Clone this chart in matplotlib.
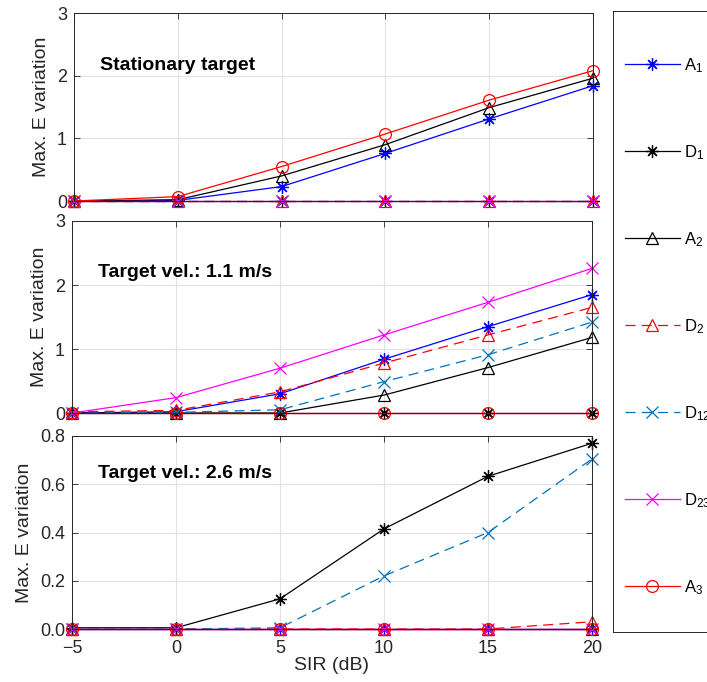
import matplotlib
matplotlib.use('Agg')
import matplotlib.pyplot as plt
import numpy as np

plt.rcParams['font.family'] = ['Liberation Sans', 'DejaVu Sans']
plt.rcParams['mathtext.fontset'] = 'custom'
plt.rcParams['mathtext.rm'] = 'Liberation Sans'
plt.rcParams['mathtext.it'] = 'Liberation Sans'

sir = [-5, 0, 5, 10, 15, 20]
names = ["A$_1$", "D$_1$", "A$_2$", "D$_2$", "D$_{12}$", "D$_{23}$", "A$_3$"]
panel_text = ["Stationary target", "Target vel.: 1.1 m/s", "Target vel.: 2.6 m/s"]

zero = [0, 0, 0, 0, 0, 0]

# stationary target
st_A1 = [0, 0.01, 0.23, 0.76, 1.31, 1.84]
st_D1 = zero
st_A2 = [0, 0.02, 0.40, 0.90, 1.49, 1.96]
st_D2 = zero
st_D12 = zero
st_D23 = zero
st_A3 = [0, 0.07, 0.55, 1.07, 1.61, 2.08]

# 1.1 m/s
v1_A1 = [0, 0.02, 0.30, 0.84, 1.35, 1.85]
v1_D1 = zero
v1_A2 = [0, 0, 0, 0.28, 0.71, 1.18]
v1_D2 = [0.02, 0.04, 0.33, 0.78, 1.22, 1.65]
v1_D12 = [0, 0.01, 0.05, 0.49, 0.91, 1.42]
v1_D23 = [0, 0.24, 0.70, 1.22, 1.73, 2.26]
v1_A3 = zero

# 2.6 m/s
v2_A1 = zero
v2_D1 = [0.005, 0.005, 0.125, 0.415, 0.633, 0.77]
v2_A2 = zero
v2_D2 = [0, 0, 0, 0, 0, 0.03]
v2_D12 = [0, 0, 0.005, 0.22, 0.40, 0.705]
v2_D23 = zero
v2_A3 = zero

panels = [
    [st_A1, st_D1, st_A2, st_D2, st_D12, st_D23, st_A3],
    [v1_A1, v1_D1, v1_A2, v1_D2, v1_D12, v1_D23, v1_A3],
    [v2_A1, v2_D1, v2_A2, v2_D2, v2_D12, v2_D23, v2_A3],
]
ylims = [(0, 3), (0, 3), (0, 0.8)]
yticks = [[0, 1, 2, 3], [0, 1, 2, 3], [0, 0.2, 0.4, 0.6, 0.8]]
ytext = [2.17, 2.19, 0.645]

colors = ['#0000ff', 'black', 'black', '#ff0000', '#0072bd', '#ff00ff', '#ff0000']
asterisk = (8, 2, 0)
markers = [asterisk, asterisk, '^', '^', 'x', 'x', 'o']
dashed = [False, False, False, True, True, False, False]

W, H = 707, 682
fig = plt.figure(figsize=(W / 100, H / 100), dpi=100)

# axes boxes in pixels: (left, top, right, bottom)
boxes = [(74, 13, 593, 201), (72, 221, 592, 413), (72, 436, 592, 629)]

lines = []
for k in range(3):
    l, t, r, b = boxes[k]
    ax = fig.add_axes([l / W, 1 - b / H, (r - l) / W, (b - t) / H])
    lines = []
    for i in range(7):
        ln, = ax.plot(sir, panels[k][i], color=colors[i], marker=markers[i],
                      markersize=9 if markers[i] == asterisk else 8.5,
                      markerfacecolor='none', markeredgewidth=0.9,
                      lw=0.9, label=names[i])
        if dashed[i]:
            ln.set_dashes((8, 5))
        ln.set_clip_on(False)
        lines.append(ln)
    ax.set_xlim(-5, 20)
    ax.set_ylim(*ylims[k])
    ax.set_xticks(sir)
    ax.set_yticks(yticks[k])
    ax.grid(True, color='#e3e3e3', lw=0.8)
    ax.set_axisbelow(True)
    ax.tick_params(direction='in', top=True, right=True, length=4,
                   labelsize=13, colors='#262626', width=0.6)
    ax.tick_params(axis='x', pad=8)
    ax.tick_params(axis='y', pad=5)
    for s in ax.spines.values():
        s.set_color('#262626')
        s.set_linewidth(0.7)
    if k < 2:
        ax.set_xticklabels([])
    else:
        ax.set_xlabel("SIR (dB)", fontsize=14, color='#262626', labelpad=0)
    ax.set_ylabel("Max. E variation", fontsize=14, color='#262626', labelpad=5)
    ax.text(-3.75, ytext[k], panel_text[k], fontsize=14, fontweight='bold',
            ha='left', va='center')

# legend box outside on the right
lax = fig.add_axes([613 / W, 1 - 632 / H, 0.2, 621 / H])
lax.set_xticks([])
lax.set_yticks([])
for s in lax.spines.values():
    s.set_color('#262626')
    s.set_linewidth(0.7)
lax.legend(lines, names, loc='center left', frameon=False, fontsize=12,
           labelspacing=4.1, handlelength=3.3, handletextpad=0.25,
           borderaxespad=0.3, bbox_to_anchor=(0, 0.492))

fig.savefig('out.png', dpi=100)
